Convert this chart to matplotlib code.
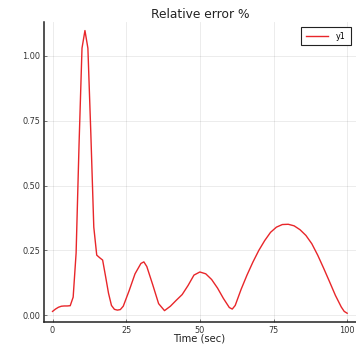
import matplotlib
matplotlib.use("Agg")
import matplotlib.pyplot as plt

# Relative error samples (time in seconds, error in %)
time_s = [0, 1, 2, 3, 4, 5, 6, 7, 8, 9, 10, 11, 12, 13, 14, 15, 16, 17, 18, 19,
          20, 21, 22, 23, 24, 26, 28, 30, 31, 32, 34, 36, 38, 40, 42, 44, 46, 48,
          50, 52, 54, 56, 58, 60, 61, 62, 64, 66, 68, 70, 72, 74, 76, 78, 80, 82,
          84, 86, 88, 90, 92, 94, 96, 98, 99, 100]
rel_error = [0.015, 0.024, 0.031, 0.035, 0.036, 0.036, 0.037, 0.07, 0.24, 0.66,
             1.03, 1.098, 1.03, 0.70, 0.34, 0.232, 0.222, 0.213, 0.15, 0.085,
             0.038, 0.023, 0.020, 0.022, 0.035, 0.095, 0.160, 0.200, 0.206, 0.188,
             0.118, 0.045, 0.018, 0.035, 0.058, 0.080, 0.115, 0.155, 0.167, 0.160,
             0.138, 0.105, 0.065, 0.030, 0.024, 0.038, 0.100, 0.155, 0.205, 0.250,
             0.288, 0.320, 0.340, 0.350, 0.351, 0.345, 0.330, 0.308, 0.276, 0.232,
             0.182, 0.130, 0.077, 0.032, 0.015, 0.008]

x_ticks = [0, 25, 50, 75, 100]
y_ticks = [0.00, 0.25, 0.50, 0.75, 1.00]
y_tick_labels = ["0.00", "0.25", "0.50", "0.75", "1.00"]

W, H = 356, 344
fig = plt.figure(figsize=(W / 100, H / 100), dpi=100)
fig.patch.set_facecolor("white")

left, right, top, bottom = 43.7, 356.0, 22.0, 322.3
ax = fig.add_axes([left / W, 1 - bottom / H, (right - left) / W, (bottom - top) / H])

ax.plot(time_s, rel_error, color="#e8262a", linewidth=1.0, label="y1")

ax.set_xlim(-3, 103)
ax.set_ylim(-0.027, 1.131)
ax.set_xticks(x_ticks)
ax.set_yticks(y_ticks)
ax.set_yticklabels(y_tick_labels)

ax.grid(True, color="black", alpha=0.09, linewidth=0.6)
for side in ("top", "right"):
    ax.spines[side].set_visible(False)
for side in ("left", "bottom"):
    ax.spines[side].set_color("#222222")
    ax.spines[side].set_linewidth(1.1)

ax.tick_params(axis="both", direction="in", length=2.5, width=0.5,
               color="#444444", labelsize=5.9, labelcolor="#333333", pad=2.5)

fig.text(199 / W, 1 - 338.5 / H, "Time (sec)", ha="center", va="center",
         fontsize=7.2, color="#222222")
fig.text(200 / W, 1 - 14 / H, "Relative error %", ha="center", va="center",
         fontsize=8.8, color="#222222")

leg = ax.legend(loc="upper right", bbox_to_anchor=(350.7 / W, 1 - 26.7 / H),
                bbox_transform=fig.transFigure, borderaxespad=0, fancybox=False,
                framealpha=1, edgecolor="#222222", fontsize=5.8, handlelength=2.8,
                handletextpad=1.0, borderpad=0.6)
leg.get_frame().set_linewidth(0.8)

fig.savefig("out.png", dpi=100)
